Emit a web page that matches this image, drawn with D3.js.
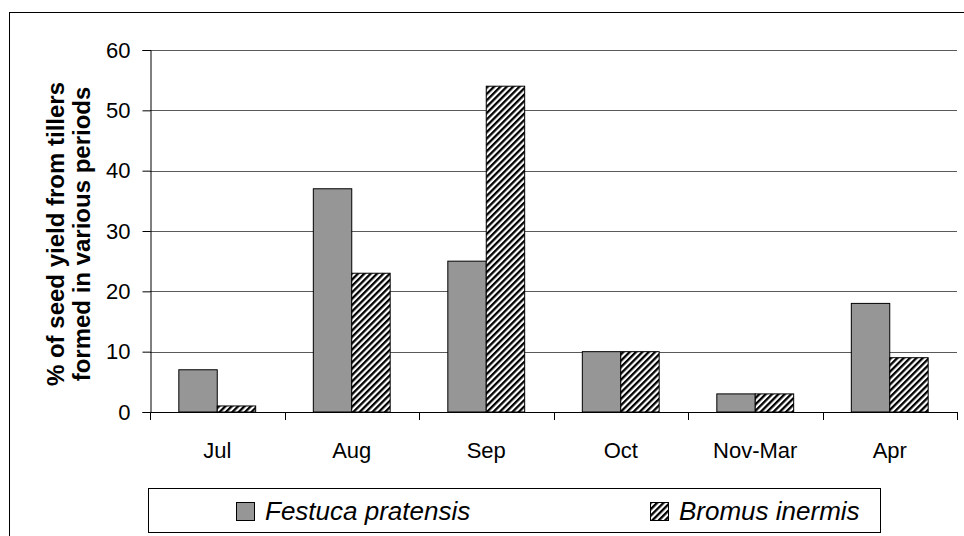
<!DOCTYPE html>
<html>
<head>
<meta charset="utf-8">
<script src="https://cdn.jsdelivr.net/npm/d3@7"></script>
<style>
  body { margin: 0; background: #fff; }
  svg { display: block; font-family: "Liberation Sans", Arial, sans-serif; }
</style>
</head>
<body>
<svg width="964" height="536"></svg>
<script>
var months = ["Jul", "Aug", "Sep", "Oct", "Nov-Mar", "Apr"];
var festuca = [7, 37, 25, 10, 3, 18];
var bromus = [1, 23, 54, 10, 3, 9];
var yTicks = [0, 10, 20, 30, 40, 50, 60];
var seriesNames = ["Festuca pratensis", "Bromus inermis"];

var svg = d3.select("svg"),
    width = +svg.attr("width"),
    height = +svg.attr("height");

var defs = svg.append("defs");
var pat = defs.append("pattern")
    .attr("id", "hatch")
    .attr("patternUnits", "userSpaceOnUse")
    .attr("width", 4.5)
    .attr("height", 4.5)
    .attr("patternTransform", "rotate(45)");
pat.append("rect").attr("width", 4.5).attr("height", 4.5).attr("fill", "#fff");
pat.append("rect").attr("width", 2.3).attr("height", 4.5).attr("fill", "#000");

// outer frame
svg.append("rect")
    .attr("x", 9.5).attr("y", 12.5)
    .attr("width", 970).attr("height", 540)
    .attr("fill", "none").attr("stroke", "#000").attr("stroke-width", 1);

var plotLeft = 150, plotRight = 957, plotTop = 50, plotBottom = 412;

var x = d3.scaleBand().domain(months).range([plotLeft, plotRight]);
var y = d3.scaleLinear().domain([0, 60]).range([plotBottom, plotTop]);

// gridlines
svg.append("g")
    .selectAll("line")
    .data(yTicks.slice(1))
    .enter()
    .append("line")
    .attr("x1", plotLeft).attr("x2", plotRight)
    .attr("y1", d => Math.round(y(d)) + 0.5)
    .attr("y2", d => Math.round(y(d)) + 0.5)
    .attr("stroke", "#5a5a5a")
    .attr("stroke-width", 1);

var barW = x.bandwidth() / 3.5;

var groups = svg.append("g")
    .selectAll("g")
    .data(months)
    .enter()
    .append("g");

groups.append("rect")
    .attr("x", (d) => x(d) + x.bandwidth() / 2 - barW)
    .attr("y", (d, i) => y(festuca[i]))
    .attr("width", barW)
    .attr("height", (d, i) => plotBottom - y(festuca[i]))
    .attr("fill", "#969696")
    .attr("stroke", "#000")
    .attr("stroke-width", 1);

groups.append("rect")
    .attr("x", (d) => x(d) + x.bandwidth() / 2)
    .attr("y", (d, i) => y(bromus[i]))
    .attr("width", barW)
    .attr("height", (d, i) => plotBottom - y(bromus[i]))
    .attr("fill", "url(#hatch)")
    .attr("stroke", "#000")
    .attr("stroke-width", 1);

// y axis
var yAxis = svg.append("g")
    .attr("transform", "translate(" + (plotLeft + 0.5) + ",0)")
    .call(d3.axisLeft(y).tickValues(yTicks).tickSize(8).tickPadding(12));
yAxis.select(".domain").attr("stroke", "#000");
yAxis.selectAll("text")
    .attr("font-size", 22)
    .attr("font-family", "Liberation Sans, Arial, sans-serif")
    .attr("fill", "#000");

// x axis
var xAxis = svg.append("g")
    .attr("transform", "translate(0," + (plotBottom + 0.5) + ")")
    .call(d3.axisBottom(x).tickSize(0).tickPadding(30));
xAxis.select(".domain").attr("stroke", "#000").attr("d", "M" + plotLeft + ",0H" + plotRight);
xAxis.selectAll("text")
    .attr("font-size", 22)
    .attr("font-family", "Liberation Sans, Arial, sans-serif")
    .attr("fill", "#000");

svg.append("g")
    .selectAll("line")
    .data(months.concat([null]))
    .enter()
    .append("line")
    .attr("x1", (d, i) => Math.round(plotLeft + i * x.step()) + 0.5)
    .attr("x2", (d, i) => Math.round(plotLeft + i * x.step()) + 0.5)
    .attr("y1", plotBottom)
    .attr("y2", plotBottom + 8)
    .attr("stroke", "#000");

// y title
var yTitle = svg.append("text")
    .attr("transform", "translate(64,234) rotate(-90)")
    .attr("text-anchor", "middle")
    .attr("font-size", 24)
    .attr("font-weight", "bold")
    .attr("fill", "#000");
yTitle.append("tspan").attr("x", 0).attr("y", 0).text("% of seed yield from tillers");
yTitle.append("tspan").attr("x", 0).attr("y", 26).text("formed in various periods");

// legend
svg.append("rect")
    .attr("x", 148.5).attr("y", 488.5)
    .attr("width", 732).attr("height", 44)
    .attr("fill", "#fff").attr("stroke", "#000");

var legendX = [236, 650];
var leg = svg.append("g")
    .selectAll("g")
    .data(seriesNames)
    .enter()
    .append("g")
    .attr("transform", (d, i) => "translate(" + legendX[i] + ",502)");
leg.append("rect")
    .attr("x", 0.5).attr("y", 0.5)
    .attr("width", 18).attr("height", 18)
    .attr("fill", (d, i) => i === 0 ? "#969696" : "url(#hatch)")
    .attr("stroke", "#000");
leg.append("text")
    .attr("x", 29).attr("y", 18)
    .attr("font-size", 26)
    .attr("font-style", "italic")
    .attr("fill", "#000")
    .text(d => d);
</script>
</body>
</html>
